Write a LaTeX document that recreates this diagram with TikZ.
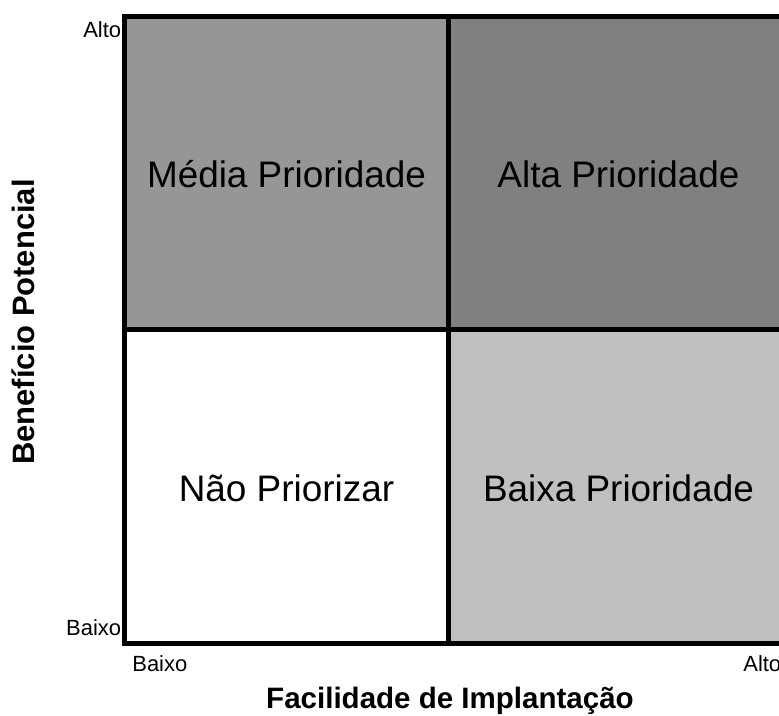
\documentclass[tikz,border=0pt]{standalone}
\usepackage{fontspec}
\setmainfont{Liberation Sans}
\begin{document}
\begin{tikzpicture}
            \useasboundingbox (0,0) rectangle (15.580000,14.320000);
            \clip (0,0) rectangle (15.580000,14.320000);

            % Changing colors of the quadrants
            \definecolor{r150g150b150}{rgb}{0.588235,0.588235,0.588235}%
            \definecolor{r128g128b128}{rgb}{0.501961,0.501961,0.501961}%
            \definecolor{r192g192b192}{rgb}{0.752941,0.752941,0.752941}%

            % Filling quadrants
            \fill [r150g150b150] (2.490000,7.720000) rectangle (8.970000,13.990000);%
            \fill [r128g128b128] (8.970000,7.720000) rectangle (15.770000,13.990000);%
            \fill [white] (2.490000,1.450000) rectangle (8.970000,7.720000);%
            \fill [r192g192b192] (8.970000,1.450000) rectangle (15.770000,7.720000);%

            % Drawing border and middle lines
            \draw [line width=0.100cm] (2.490000,1.450000) rectangle (15.770000,13.990000);%
            \draw [line width=0.100cm] (8.970000,1.450000) -- (8.970000,13.990000);%
            \draw [line width=0.100cm] (2.490000,7.720000) -- (15.770000,7.720000);%

            % Marking quadrant labels
            {\fontsize{21}{25}\selectfont
            \node (media) at (5.730000,10.830000) {Média Prioridade};%
            \node (alta) at (12.370000,10.830000) {Alta Prioridade};%
            \node (naopri) at (5.730000,4.560000) {Não Priorizar};%
            \node (baixa) at (12.370000,4.560000) {Baixa Prioridade};%
            }

            % Marking axis ends
            {\fontsize{12.5}{15}\selectfont
            \node [anchor=east, inner sep=0] (yalto) at (2.430000,13.730000) {Alto};%
            \node [anchor=east, inner sep=0] (ybaixo) at (2.430000,1.760000) {Baixo};%
            \node [anchor=west, inner sep=0] (xbaixo) at (2.640000,1.050000) {Baixo};%
            \node [anchor=west, inner sep=0] (xalto) at (14.860000,1.050000) {Alto};%
            }

            % Marking axis titles
            {\fontsize{16.8}{20}\selectfont\bfseries
            \node [anchor=base, inner sep=0] (xtitle) at (9.000000,0.140000) {Facilidade de Implantação};%
            }
            {\fontsize{17.6}{21}\selectfont\bfseries
            \node [anchor=base, inner sep=0, rotate=90] (ytitle) at (0.700000,7.880000) {Benefício Potencial};%
            }
            \end{tikzpicture}
\end{document}
